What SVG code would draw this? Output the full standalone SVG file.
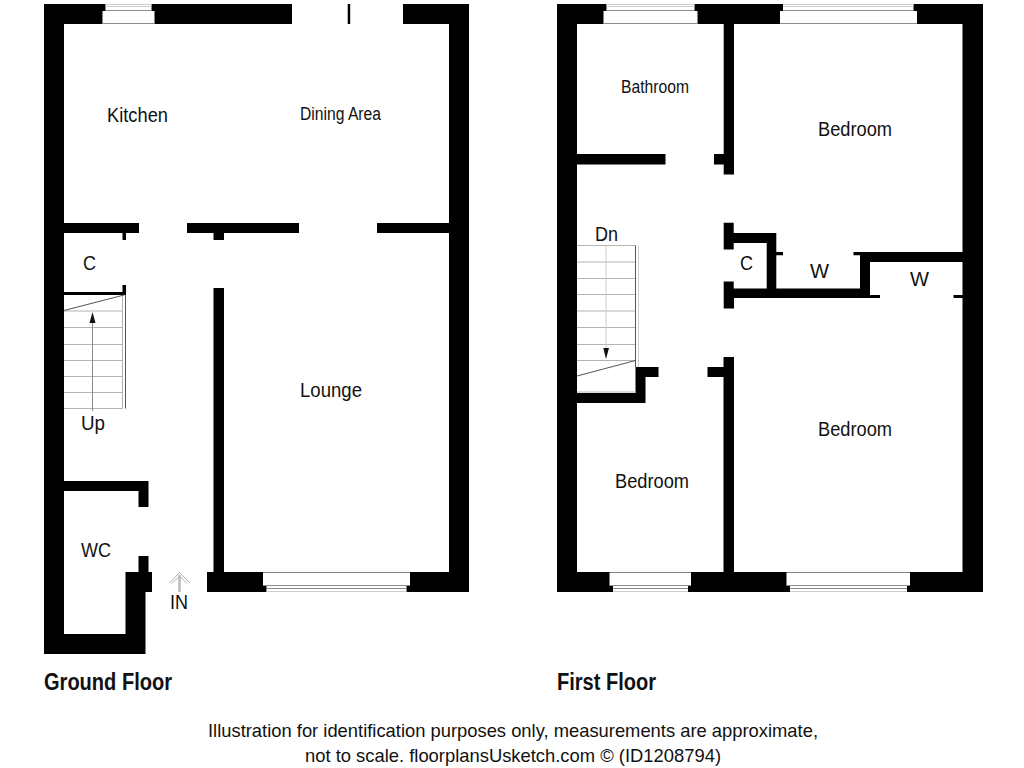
<svg xmlns="http://www.w3.org/2000/svg" width="1024" height="768" viewBox="0 0 1024 768">
<style>
.w{fill:#000;stroke:none}
.g{fill:#fff;stroke:none}
.st{stroke:#b4b4b4;stroke-width:1;fill:none}
.ln{stroke:#8c8c8c;stroke-width:1;fill:none}
.dk{stroke:#555;stroke-width:1;fill:none}
.lt{stroke:#ccc;stroke-width:1;fill:none}
text{font-family:"Liberation Sans",Arial,sans-serif;fill:#111}
.r{font-size:20px}
.b{font-size:23px;font-weight:bold}
.f{font-size:18.5px}
</style>
<rect width="1024" height="768" fill="#fff"/>
<g id="ground-floor-walls">
<path class="w" d="M44 4H292V24H64V223H139V233H126V240H122.5V233H64V292H122.5V285H126V295H64V481H148.5V507H138.5V491H64V634H125.5V572H138.5V556H148.5V572H152V592H145.5V654H44Z"/>
<path class="w" d="M403 4H469V592H207V572H213.5V288H224V572H449V233H377V223H449V24H403Z"/>
<path class="w" d="M187 223H299V233H224V240H213.5V233H187Z"/>
<rect class="w" x="347.7" y="4" width="2.5" height="20"/>
</g>
<g id="first-floor-walls">
<path class="w" d="M557 4H983V592H557ZM577 24V154H665.5V164.5H577V393H635.5V367H658.5V377H645.5V403H577V572H723.5V377H707.5V367H723.5V357H734V572H962.5V298H953.5V295H962.5V262H870V295H880V298H734V308.5H723.7V281.5H733.7V288.5H766.7V243H733.7V249.5H723.7V222.7H733.7V233H776.3V252H783V255.3H776.3V288.5H860V255.3H853.5V252H962.5V24H734V174.5H723.7V164.5H714V154H723.7V24Z" fill-rule="evenodd"/>
</g>
<g id="windows">
<rect class="g" x="105.5" y="4" width="46" height="8"/><rect class="g" x="102.5" y="11" width="52" height="13"/>
<path class="lt" d="M105.5 4.500H151.500M105.500 6.500H151.500"/><path class="ln" d="M105.500 10.500H151.500M102.500 23.500H154.500"/>
<rect class="g" x="606.500" y="4" width="88" height="8"/><rect class="g" x="603.500" y="11" width="94" height="13"/>
<path class="lt" d="M606.500 4.500H694.500M606.500 6.500H694.500"/><path class="ln" d="M606.500 10.500H694.500M603.500 23.500H697.500"/>
<rect class="g" x="783" y="4" width="130.500" height="8"/><rect class="g" x="780" y="11" width="137" height="13"/>
<path class="lt" d="M783 4.500H913.500M783 6.500H913.500"/><path class="ln" d="M783 10.500H913.500M780 23.500H917"/>
<rect class="g" x="263" y="572.500" width="147" height="13"/><rect class="g" x="266.500" y="585" width="140" height="7"/>
<path class="ln" d="M263 585.500H410M266.500 588.500H406.500"/><path class="lt" d="M266.500 591.500H406.500"/>
<rect class="g" x="609.500" y="572.500" width="81.500" height="13"/><rect class="g" x="613" y="585" width="75" height="7"/>
<path class="ln" d="M609.500 585.500H691M613 588.500H688"/><path class="lt" d="M613 591.500H688"/>
<rect class="g" x="786.500" y="572.500" width="123.500" height="13"/><rect class="g" x="790" y="585" width="117" height="7"/>
<path class="ln" d="M786.500 585.500H910M790 588.500H907"/><path class="lt" d="M790 591.500H907"/>
</g>
<g id="stairs-ground">
<path class="st" d="M64 311H122.500M64 327.500H122.500M64 344.500H122.500M64 360.500H122.500M64 376.500H122.500M64 392.500H122.500M64 408.500H122.500M122.500 295V408.500"/>
<path class="dk" d="M125.500 295V408.500M64 310.500L124 295"/>
<path class="ln" d="M92.500 323V411"/>
<path d="M92.500 312L95.500 323H89.500Z" fill="#111"/>
</g>
<g id="stairs-first">
<path class="st" d="M577 245.500H636M577 262H636M577 278.500H636M577 294.500H636M577 311H636M577 327.500H636M577 344.500H636M577 360.500H636M577 392H636"/>
<path class="dk" d="M635.500 245.500V367M577 376L635.500 360.500"/>
<path class="lt" d="M606 245.500V349M638.500 245.500V367" stroke-width="1.500"/>
<path d="M606 359L603.300 348H609Z" fill="#111"/>
</g>
<g id="entry-arrow">
<path d="M169.500 583L179.500 572.500L190 583M172 583.500L179.500 576L187 583.500" fill="none" stroke="#b0b0b0" stroke-width="1"/>
<path d="M179.500 575V592" stroke="#bbb" stroke-width="2.500" fill="none"/>
</g>
<g id="labels">
<text class="r" x="107" y="122" textLength="61" lengthAdjust="spacingAndGlyphs">Kitchen</text>
<text class="r" x="300" y="120" textLength="81" lengthAdjust="spacingAndGlyphs" style="font-size:18px">Dining Area</text>
<text class="r" x="300" y="397" textLength="62" lengthAdjust="spacingAndGlyphs">Lounge</text>
<text class="r" x="83" y="270" textLength="13" lengthAdjust="spacingAndGlyphs">C</text>
<text class="r" x="81" y="430" textLength="24" lengthAdjust="spacingAndGlyphs">Up</text>
<text class="r" x="81" y="557" textLength="30" lengthAdjust="spacingAndGlyphs">WC</text>
<text class="r" x="170" y="609" textLength="18" lengthAdjust="spacingAndGlyphs">IN</text>
<text class="r" x="621" y="93" textLength="68" lengthAdjust="spacingAndGlyphs" style="font-size:17.5px">Bathroom</text>
<text class="r" x="818" y="136" textLength="74" lengthAdjust="spacingAndGlyphs">Bedroom</text>
<text class="r" x="818" y="436" textLength="74" lengthAdjust="spacingAndGlyphs">Bedroom</text>
<text class="r" x="615" y="488" textLength="74" lengthAdjust="spacingAndGlyphs">Bedroom</text>
<text class="r" x="595" y="241" textLength="23" lengthAdjust="spacingAndGlyphs">Dn</text>
<text class="r" x="740" y="270" textLength="13" lengthAdjust="spacingAndGlyphs">C</text>
<text class="r" x="810" y="278" textLength="19" lengthAdjust="spacingAndGlyphs">W</text>
<text class="r" x="910" y="286" textLength="19" lengthAdjust="spacingAndGlyphs">W</text>
<text class="b" x="44" y="690" textLength="128" lengthAdjust="spacingAndGlyphs">Ground Floor</text>
<text class="b" x="557" y="690" textLength="99" lengthAdjust="spacingAndGlyphs">First Floor</text>
<text class="f" x="208" y="737" textLength="610" lengthAdjust="spacingAndGlyphs">Illustration for identification purposes only, measurements are approximate,</text>
<text class="f" x="305" y="762" textLength="416" lengthAdjust="spacingAndGlyphs">not to scale. floorplansUsketch.com © (ID1208794)</text>
</g>
</svg>
